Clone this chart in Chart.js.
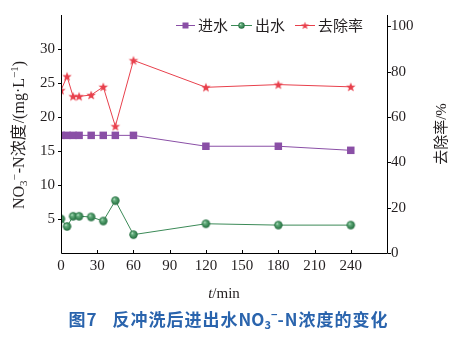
<!DOCTYPE html>
<html><head><meta charset="utf-8">
<script src="https://cdn.jsdelivr.net/npm/chart.js@4"></script>
<style>html,body{margin:0;padding:0;background:#fff;} canvas{display:block;}</style>
</head><body>
<canvas id="c" width="464" height="340"></canvas>
<script>
// ---- data ----
const times = [0, 5, 10, 15, 25, 35, 45, 60, 120, 180, 240];
const influent = [17.3, 17.3, 17.3, 17.3, 17.3, 17.3, 17.3, 17.3, 15.7, 15.7, 15.1];
const effluent = [5.0, 3.9, 5.4, 5.4, 5.3, 4.7, 7.7, 2.7, 4.3, 4.1, 4.1];
const removal = [71.8, 77.9, 69.1, 69.1, 69.7, 73.3, 55.9, 85.0, 73.1, 74.3, 73.3];
const xTicks = [0, 30, 60, 90, 120, 150, 180, 210, 240];
const yLeftTicks = [5, 10, 15, 20, 25, 30];
const yRightTicks = [0, 20, 40, 60, 80, 100];
const seriesNames = ['进水', '出水', '去除率'];
const xTitleText = ['t', '/min'];
const rightTitleText = '去除率/%';
const captionText = ['图7', '反冲洗后进出水', 'NO', '3', '−', '-N浓度的变化'];

// ---- styles ----
const PURPLE = '#8a4fa6', GREEN = '#3b8a57', RED = '#e8404c', INK = '#231f20', BLUE = '#2a64ad';
const SERIF = '"Liberation Serif", "Noto Sans CJK SC", serif';
const CJK = '"Noto Sans CJK SC", sans-serif';

function makeStar(R, color) {
  const s = Math.ceil(R * 2) + 2, c = document.createElement('canvas');
  c.width = c.height = s;
  const g = c.getContext('2d'), cx = s / 2, cy = s / 2 + R * 0.08, r = R * 0.42;
  g.beginPath();
  for (let i = 0; i < 10; i++) {
    const a = -Math.PI / 2 + i * Math.PI / 5, rr = i % 2 ? r : R;
    g.lineTo(cx + rr * Math.cos(a), cy + rr * Math.sin(a));
  }
  g.closePath(); g.fillStyle = color; g.fill();
  return c;
}
function makeBall(r) {
  const s = Math.ceil(r * 2) + 2, c = document.createElement('canvas');
  c.width = c.height = s;
  const g = c.getContext('2d'), cx = s / 2, cy = s / 2;
  const gr = g.createRadialGradient(cx - r * 0.35, cy - r * 0.4, 0, cx, cy, r);
  gr.addColorStop(0, '#d8efdf'); gr.addColorStop(0.3, '#66b07f'); gr.addColorStop(1, '#1e6a3a');
  g.beginPath(); g.arc(cx, cy, r, 0, Math.PI * 2); g.fillStyle = gr; g.fill();
  return c;
}
const starPt = makeStar(5, RED), ballPt = makeBall(4.2);
const starLg = makeStar(4.2, RED), ballLg = makeBall(3.2);

const clipLeft = {left: 0, top: false, right: false, bottom: false};
function pts(arr) { return times.map((t, i) => ({x: t, y: arr[i]})); }

// draws a row of text pieces (optionally letter-spaced) centred at (cx, cy)
function drawRich(ctx, pieces, cx, cy, rot, color) {
  ctx.save();
  ctx.translate(cx, cy); ctx.rotate(rot);
  ctx.fillStyle = color; ctx.textBaseline = 'alphabetic'; ctx.textAlign = 'left';
  let total = 0;
  pieces.forEach(p => {
    ctx.font = p.f;
    const ls = p.ls || 0;
    p.chars = ls ? Array.from(p.t) : [p.t];
    p.cw = p.chars.map(ch => ctx.measureText(ch).width + ls);
    p.w = p.cw.reduce((s, v) => s + v, 0) + (p.gap || 0);
    total += p.w;
  });
  let x = -total / 2;
  pieces.forEach(p => {
    ctx.font = p.f;
    let xx = x;
    p.chars.forEach((ch, k) => { ctx.fillText(ch, xx, p.base + (p.dy || 0)); xx += p.cw[k]; });
    x += p.w;
  });
  ctx.restore();
}

const decor = {
  id: 'decor',
  afterDraw(chart) {
    const {ctx, chartArea: a, scales} = chart;
    const sx = scales.x, yl = scales.y, yr = scales.y1;
    ctx.save();
    ctx.strokeStyle = '#000'; ctx.lineWidth = 1;
    ctx.beginPath();
    ctx.moveTo(a.left + 0.5, a.top); ctx.lineTo(a.left + 0.5, a.bottom + 0.5);
    ctx.lineTo(a.right + 0.5, a.bottom + 0.5); ctx.lineTo(a.right + 0.5, a.top);
    xTicks.forEach(v => { const x = Math.round(sx.getPixelForValue(v)) + 0.5; ctx.moveTo(x, a.bottom); ctx.lineTo(x, a.bottom - 3); });
    yLeftTicks.forEach(v => { const y = Math.round(yl.getPixelForValue(v)) + 0.5; ctx.moveTo(a.left, y); ctx.lineTo(a.left - 3, y); });
    yRightTicks.forEach(v => { const y = Math.round(yr.getPixelForValue(v)) + 0.5; ctx.moveTo(a.right + 1, y); ctx.lineTo(a.right + 4, y); });
    ctx.stroke();

    // legend
    const ly = 25.5;
    const items = [
      {x0: 176, x1: 195, c: PURPLE, m: 'rect', tx: 198},
      {x0: 231, x1: 252, c: GREEN, m: ballLg, tx: 255},
      {x0: 295, x1: 315, c: RED, m: starLg, tx: 318}
    ];
    items.forEach((it, i) => {
      ctx.strokeStyle = it.c; ctx.lineWidth = 1;
      ctx.beginPath(); ctx.moveTo(it.x0, ly); ctx.lineTo(it.x1, ly); ctx.stroke();
      const mx = (it.x0 + it.x1) / 2;
      if (it.m === 'rect') { ctx.fillStyle = it.c; ctx.fillRect(mx - 3, ly - 3, 6, 6); }
      else ctx.drawImage(it.m, mx - it.m.width / 2, ly - it.m.height / 2);
      ctx.fillStyle = INK; ctx.font = '15px ' + CJK; ctx.textBaseline = 'middle'; ctx.textAlign = 'left';
      ctx.fillText(seriesNames[i], it.tx, ly);
    });

    // left axis title
    const f16 = '16px ' + SERIF, f11 = '11px ' + SERIF, c16 = '16px ' + CJK;
    drawRich(ctx, [
      {t: 'NO', f: f16, base: 5}, {t: '3', f: f11, base: 5, dy: 3},
      {t: '−', f: f11, base: 5, dy: -6, gap: 1}, {t: '-N', f: f16, base: 5},
      {t: '浓度', f: c16, base: 5, gap: 1}, {t: '/(mg·L', f: f16, base: 5},
      {t: '−1', f: f11, base: 5, dy: -6}, {t: ')', f: f16, base: 5}
    ], 19, (a.top + a.bottom) / 2 + 1, -Math.PI / 2, INK);

    // right axis title
    drawRich(ctx, [{t: rightTitleText, f: '15px ' + SERIF, base: 5}], 441, (a.top + a.bottom) / 2, -Math.PI / 2, INK);

    // x title
    drawRich(ctx, [{t: xTitleText[0], f: 'italic 15px ' + SERIF, base: 5}, {t: xTitleText[1], f: '15px ' + SERIF, base: 5}],
      (a.left + a.right) / 2, 293, 0, INK);

    // caption
    const cb = 'bold 17px ' + CJK, cs = 'bold 11px ' + CJK;
    drawRich(ctx, [
      {t: captionText[0], f: cb, base: 6, gap: 15, ls: 1},
      {t: captionText[1], f: cb, base: 6, ls: 1},
      {t: captionText[2], f: cb, base: 6},
      {t: captionText[3], f: cs, base: 6, dy: 3},
      {t: captionText[4], f: cs, base: 6, dy: -7},
      {t: captionText[5], f: cb, base: 6, ls: 1}
    ], 228.5, 320, 0, BLUE);
    ctx.restore();
  }
};

const tickFont = {family: SERIF, size: 15};
new Chart(document.getElementById('c'), {
  type: 'line',
  data: {
    datasets: [
      {label: seriesNames[0], data: pts(influent), yAxisID: 'y', borderColor: PURPLE, backgroundColor: PURPLE,
       borderWidth: 1, pointStyle: 'rect', pointRadius: 5.3, pointBorderWidth: 0, clip: clipLeft},
      {label: seriesNames[1], data: pts(effluent), yAxisID: 'y', borderColor: GREEN, backgroundColor: GREEN,
       borderWidth: 1, pointStyle: ballPt, pointRadius: 4.2, clip: clipLeft},
      {label: seriesNames[2], data: pts(removal), yAxisID: 'y1', borderColor: RED, backgroundColor: RED,
       borderWidth: 1, pointStyle: starPt, pointRadius: 5, clip: clipLeft}
    ]
  },
  options: {
    responsive: false, devicePixelRatio: 1, animation: false, events: [],
    layout: {padding: {top: 6, left: 0, right: 0, bottom: 0}},
    plugins: {legend: {display: false}, tooltip: {enabled: false}},
    scales: {
      x: {type: 'linear', position: 'bottom', min: 0, max: 270,
          afterBuildTicks: s => { s.ticks = xTicks.map(v => ({value: v})); },
          afterFit: s => { s.height = 87; },
          grid: {display: false, drawTicks: false}, border: {display: false},
          ticks: {font: tickFont, color: INK, padding: 4, maxRotation: 0, autoSkip: false}},
      y: {type: 'linear', position: 'left', min: 0, max: 35,
          afterBuildTicks: s => { s.ticks = yLeftTicks.map(v => ({value: v})); },
          afterFit: s => { s.width = 61; },
          grid: {display: false, drawTicks: false}, border: {display: false},
          ticks: {font: tickFont, color: INK, padding: 6}},
      y1: {type: 'linear', position: 'right', min: 0, max: 105,
          afterBuildTicks: s => { s.ticks = yRightTicks.map(v => ({value: v})); },
          afterFit: s => { s.width = 77; },
          grid: {display: false, drawTicks: false}, border: {display: false},
          ticks: {font: tickFont, color: INK, padding: 4}}
    }
  },
  plugins: [decor]
});
</script>
</body></html>
